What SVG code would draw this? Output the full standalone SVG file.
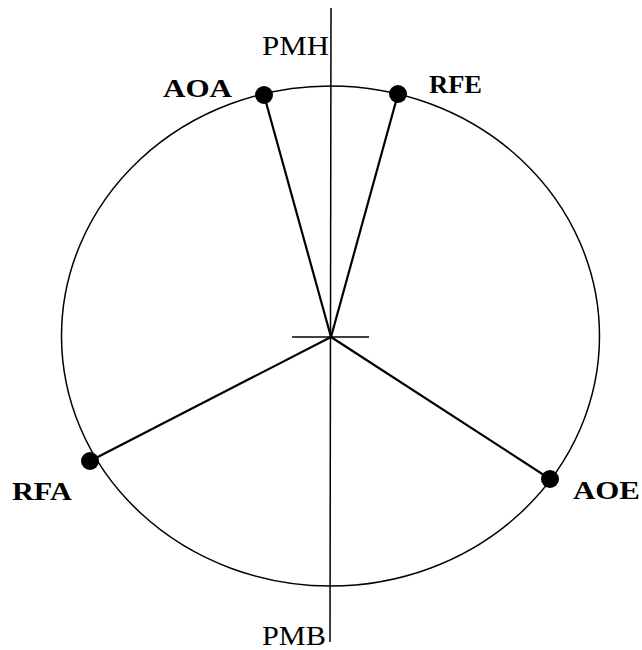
<svg xmlns="http://www.w3.org/2000/svg" width="642" height="650" viewBox="0 0 642 650">
<style>
.ln{stroke:#000;stroke-width:2.2;fill:none}
.thin{stroke:#000;stroke-width:1.5;fill:none}
.dot{fill:#000}
.lb{font-family:"Liberation Serif","Times New Roman",serif;font-weight:bold;font-size:25px;fill:#000}
.ax{font-family:"Liberation Serif","Times New Roman",serif;font-size:27px;fill:#000}
</style>
<rect width="642" height="650" fill="#fff"/>
<g id="circle"><ellipse class="thin" cx="330.5" cy="336" rx="269" ry="250"/></g>
<g id="axes">
<line class="thin" x1="331" y1="8" x2="330" y2="642"/>
<line class="thin" x1="292" y1="337" x2="369" y2="337"/>
<text class="ax" x="262" y="55" textLength="67" lengthAdjust="spacingAndGlyphs">PMH</text>
<text class="ax" x="262" y="645" textLength="64" lengthAdjust="spacingAndGlyphs">PMB</text>
</g>
<g id="connectors">
<line class="ln" x1="331" y1="337" x2="264" y2="95"/>
<line class="ln" x1="331" y1="337" x2="398" y2="94"/>
<line class="ln" x1="331" y1="337" x2="90" y2="461"/>
<line class="ln" x1="331" y1="337" x2="550" y2="479"/>
</g>
<g id="AOA"><circle class="dot" cx="264" cy="95" r="9"/><text class="lb" x="163" y="97" textLength="69" lengthAdjust="spacingAndGlyphs">AOA</text></g>
<g id="RFE"><circle class="dot" cx="398" cy="94" r="9"/><text class="lb" x="429" y="93" textLength="53" lengthAdjust="spacingAndGlyphs">RFE</text></g>
<g id="RFA"><circle class="dot" cx="90" cy="461" r="9"/><text class="lb" x="12" y="500" textLength="60" lengthAdjust="spacingAndGlyphs">RFA</text></g>
<g id="AOE"><circle class="dot" cx="550" cy="479" r="9"/><text class="lb" x="573" y="499" textLength="67" lengthAdjust="spacingAndGlyphs">AOE</text></g>
</svg>
